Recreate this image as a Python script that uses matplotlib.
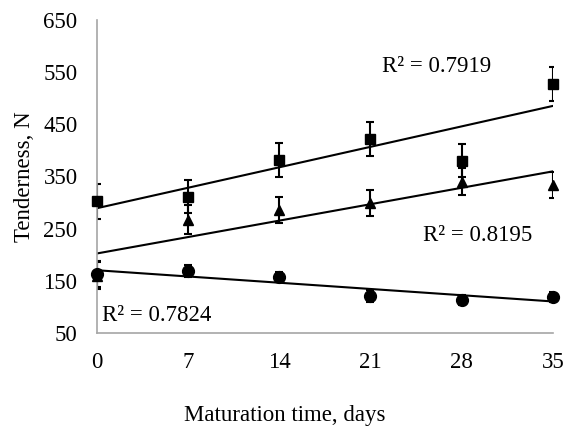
import numpy as np
import matplotlib.pyplot as plt

plt.rcParams['font.family'] = ['Liberation Serif', 'DejaVu Serif']

# ---------- data ----------
days = [0, 7, 14, 21, 28, 35]

sq_vals = [302, 311, 381, 422, 380, 527]
sq_err = [33, 32, 33, 33, 32, 33]

tri_vals = [160, 267, 286, 299, 340, 334]
tri_err = [25, 28, 25, 25, 26, 25]

circ_vals = [162, 169, 157, 121, 113, 119]
circ_err = [25, 11, 10, 11, 10, 9]

r2_labels = ['R² = 0.7919', 'R² = 0.8195', 'R² = 0.7824']

fig = plt.figure(figsize=(5.67, 4.45), dpi=100)
ax = fig.add_axes([0.171, 0.252, 0.804, 0.703])

x = np.array(days)
series = [
    (sq_vals, sq_err, 's', 7),
    (tri_vals, tri_err, '^', 7),
    (circ_vals, circ_err, 'o', 8.5),
]
for vals, err, mk, ms in series:
    ax.errorbar(x, vals, yerr=err, fmt='none', ecolor='black',
                elinewidth=1.5, capsize=3, capthick=1.5, zorder=2)
    ax.plot(x, vals, linestyle='none', marker=mk, markersize=ms,
            color='black', clip_on=False, zorder=3)
    # linear trend lines
    k, b = np.polyfit(x, vals, 1)
    ax.plot(x[[0, -1]], k * x[[0, -1]] + b, color='black', lw=1.5, zorder=2)

fs = 16.5
ax.text(21.9, 560, r2_labels[0], fontsize=fs, va='center')
ax.text(25.0, 236, r2_labels[1], fontsize=fs, va='center')
ax.text(0.4, 83, r2_labels[2], fontsize=fs, va='center')

ax.set_xlim(0, 35)
ax.set_ylim(50, 650)
ax.set_xticks(days)
ax.set_yticks(range(50, 651, 100))
ax.tick_params(length=0, labelsize=fs)
ax.tick_params(axis='x', pad=14)
ax.tick_params(axis='y', pad=14)
for s in ['top', 'right']:
    ax.spines[s].set_visible(False)
for s in ['left', 'bottom']:
    ax.spines[s].set_color('#a6a6a6')
    ax.spines[s].set_linewidth(1.2)

ax.set_ylabel('Tenderness, N', fontsize=fs, labelpad=6)
fig.text(285 / 567, 1 - 415 / 445, 'Maturation time, days',
         fontsize=fs, ha='center', va='center')

plt.savefig('out.png', dpi=100)
